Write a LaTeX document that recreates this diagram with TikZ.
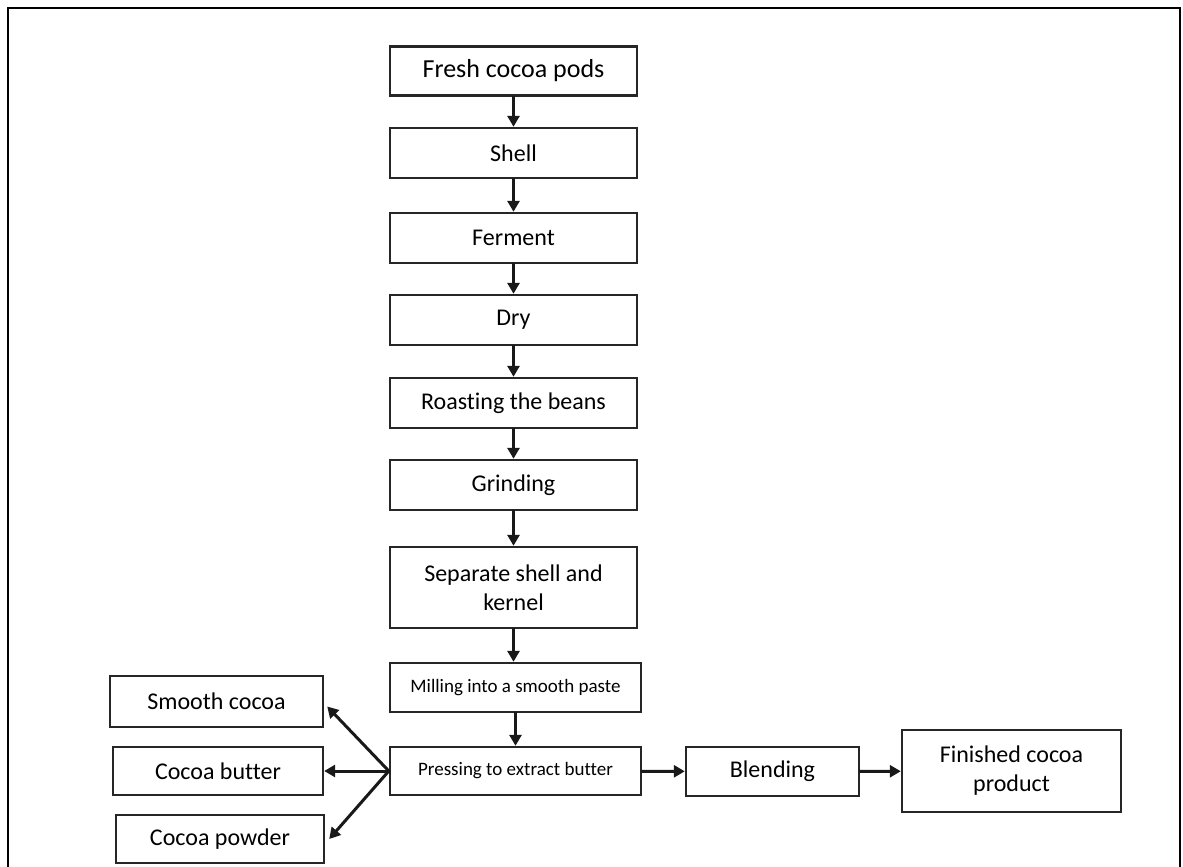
\documentclass[tikz,border=0pt]{standalone}
\usepackage{fontspec}
\setmainfont{Carlito}[Ligatures=NoCommon]
\usetikzlibrary{arrows.meta,calc}
\tikzset{
  box/.style={draw=black!85, line width=2.4pt, rectangle, inner sep=0pt, align=center, text=black,
    font=\fontsize{24}{29}\selectfont},
  smallbox/.style={box, font=\fontsize{19}{23}\selectfont},
  arr/.style={line width=3pt, draw=black!90, -{Triangle[length=11pt,width=12pt]}, shorten <=-1pt},
  frame/.style={line width=2pt, draw=black}
}
\begin{document}
\begin{tikzpicture}[x=1pt,y=-1pt]
\useasboundingbox (0,0) rectangle (1183,867);
\draw[frame] (8,870) -- (8,8) -- (1180,8) -- (1180,870);
% main column
\node[box, minimum width=247pt, minimum height=49pt, font=\fontsize{26}{30}\selectfont] (fresh) at (513.5,71) {Fresh cocoa pods};
\node[box, minimum width=247pt, minimum height=50pt] (shell) at (513.5,153) {Shell};
\node[box, minimum width=247pt, minimum height=50pt] (ferm) at (513.5,238) {Ferment};
\node[box, minimum width=247pt, minimum height=50pt] (dry) at (513.5,320) {Dry};
\node[box, minimum width=247pt, minimum height=50pt] (roast) at (513.5,403) {Roasting the beans};
\node[box, minimum width=247pt, minimum height=50pt] (grind) at (513.5,485) {Grinding};
\node[box, minimum width=247pt, minimum height=81pt] (sep) at (513.5,587.5) {Separate shell and\\kernel};
\node[smallbox, minimum width=251pt, minimum height=49pt] (mill) at (515.5,687.5) {\raisebox{4pt}{Milling into a smooth paste}};
\node[smallbox, minimum width=251pt, minimum height=48pt] (press) at (515.5,771) {Pressing to extract butter};
% left outputs
\node[box, minimum width=213pt, minimum height=51pt] (smooth) at (216.5,701.5) {Smooth cocoa};
\node[box, minimum width=210pt, minimum height=48pt] (butter) at (218,771) {Cocoa butter};
\node[box, minimum width=208pt, minimum height=48pt] (powder) at (220,839) {Cocoa powder};
% right chain
\node[box, minimum width=173pt, minimum height=49pt] (blend) at (772.5,771.5) {Blending};
\node[box, minimum width=219pt, minimum height=82pt] (fin) at (1011.5,771) {Finished cocoa\\product};
% arrows
\draw[arr] (fresh) -- (shell);
\draw[arr] (shell) -- (ferm);
\draw[arr] (ferm) -- (dry);
\draw[arr] (dry) -- (roast);
\draw[arr] (roast) -- (grind);
\draw[arr] (grind) -- (sep);
\draw[arr] (sep.south) -- (sep.south |- mill.north);
\draw[arr] (mill) -- (press);
\draw[arr] (press.west) -- ([yshift=-5pt,xshift=3pt]smooth.east);
\draw[arr] (press.west) -- (butter.east);
\draw[arr] (press.west) -- ([xshift=4pt]powder.east);
\draw[arr] (press) -- (blend);
\draw[arr] (blend) -- (fin);
\end{tikzpicture}
\end{document}
